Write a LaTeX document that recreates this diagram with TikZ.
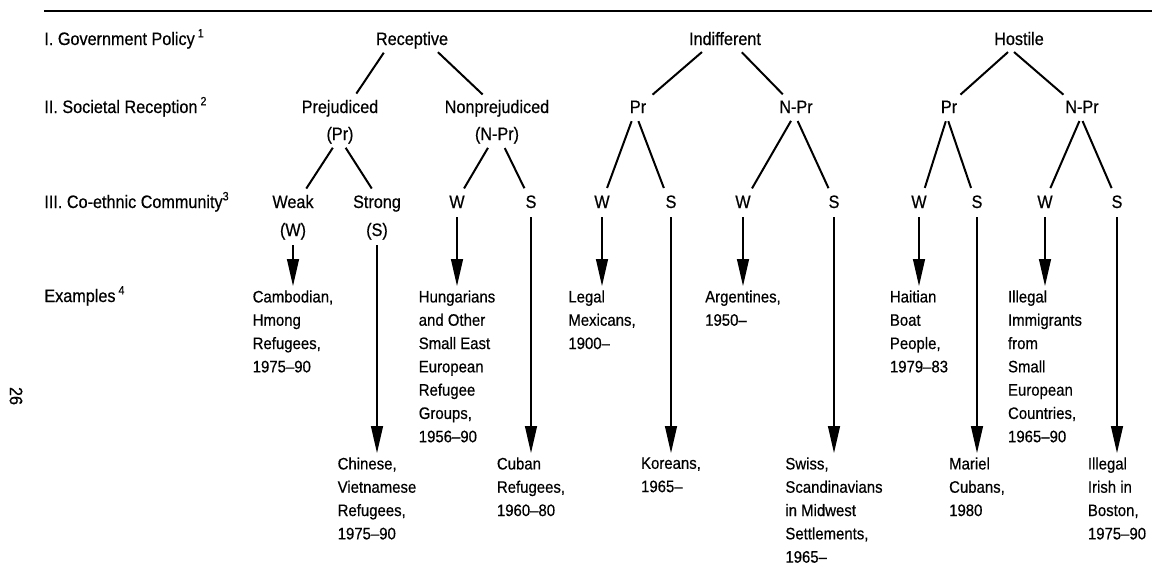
\documentclass[tikz,border=0pt]{standalone}
\usepackage{fontspec}
\setmainfont{Liberation Sans}[FakeStretch=0.9, FakeBold=0.5]
\usetikzlibrary{arrows.meta}
\newcommand\hdfont{\fontsize{9}{13.5}\selectfont}
\newcommand\exfont{\fontsize{8.3}{11.65}\selectfont}

\begin{document}
\begin{tikzpicture}[x=0.5pt, y=-0.5pt,
    lev/.style={font=\hdfont, inner sep=0pt, text height=7pt, text depth=2pt, anchor=base},
    rowlab/.style={font=\hdfont, inner sep=0pt, anchor=base west},
    ex/.style={font=\exfont, inner sep=0pt, align=left, anchor=north},
    branch/.style={line width=1pt, shorten <=2pt, shorten >=3pt},
    arr/.style={line width=0.65pt, -{Triangle[length=13.5pt,width=6pt]}, shorten <=2.5pt, shorten >=2pt}]
   \useasboundingbox (0,0) rectangle (1152,569);
   \draw[line width=1.4pt] (44,11) -- (1152,11);
   \node[font=\hdfont, rotate=-90] (pg) at (16,396) {26};
   % row labels
   \node[rowlab] (lab1) at (44,45) {I. Government Policy\,\textsuperscript{1}};
   \node[rowlab] (lab2) at (44,113) {II. Societal Reception\,\textsuperscript{2}};
   \node[rowlab] (lab3) at (44,208) {III. Co-ethnic Community\textsuperscript{3}};
   \node[rowlab] (lab4) at (44,302) {Examples\,\textsuperscript{4}};
   % government policy
   \node[lev] (rec) at (412,45) {Receptive};
   \node[lev] (ind) at (725,45) {Indifferent};
   \node[lev] (hos) at (1019,45) {Hostile};
   % societal reception
   \node[lev] (prej) at (340,113) {Prejudiced};
   \node[lev] (prejab) at (340,140) {(Pr)};
   \node[lev] (nprej) at (497,113) {Nonprejudiced};
   \node[lev] (nprejab) at (497,140) {(N-Pr)};
   \node[lev] (ipr) at (638,113) {Pr};
   \node[lev] (inpr) at (796,113) {N-Pr};
   \node[lev] (hpr) at (949,113) {Pr};
   \node[lev] (hnpr) at (1082,113) {N-Pr};
   \draw[branch] ([xshift=-13pt]rec.south) -- ([xshift=6.5pt]prej.north);
   \draw[branch] ([xshift=11.5pt]rec.south) -- ([xshift=-5pt]nprej.north);
   \draw[branch] ([xshift=-10pt]ind.south) -- ([xshift=5pt]ipr.north);
   \draw[branch] ([xshift=7pt]ind.south) -- ([xshift=-4.5pt]inpr.north);
   \draw[branch] ([xshift=-4pt]hos.south) -- ([xshift=3.5pt]hpr.north);
   \draw[branch] ([xshift=-4pt]hos.south) -- ([xshift=-7pt]hnpr.north);
   % co-ethnic community
   \node[lev] (weak) at (293,208) {Weak};
   \node[lev] (weakab) at (293,236) {(W)};
   \node[lev] (strong) at (377,208) {Strong};
   \node[lev] (strongab) at (377,236) {(S)};
   \node[lev] (nw) at (457,208) {W};
   \node[lev] (ns) at (531,208) {S};
   \node[lev] (iw) at (602,208) {W};
   \node[lev] (is) at (671,208) {S};
   \node[lev] (inw) at (743,208) {W};
   \node[lev] (ins) at (834,208) {S};
   \node[lev] (hw) at (919,208) {W};
   \node[lev] (hs) at (977,208) {S};
   \node[lev] (hnw) at (1045,208) {W};
   \node[lev] (hns) at (1117,208) {S};
   \draw[branch] ([xshift=-2.5pt]prejab.south) -- ([xshift=5pt]weak.north);
   \draw[branch] ([xshift=1.75pt]prejab.south) -- ([xshift=-1pt]strong.north);
   \draw[branch] ([xshift=-3.5pt]nprejab.south) -- ([xshift=2pt]nw.north);
   \draw[branch] ([xshift=3pt]nprejab.south) -- ([xshift=-2pt]ns.north);
   \draw[branch] ([xshift=-2.5pt]ipr.south) -- ([xshift=1.5pt]iw.north);
   \draw[branch] ([xshift=-0.5pt]ipr.south) -- ([xshift=-2.5pt]is.north);
   \draw[branch] ([xshift=-1.5pt]inpr.south) -- ([xshift=3pt]inw.north);
   \draw[branch] (inpr.south) -- ([xshift=-1.5pt]ins.north);
   \draw[branch] ([xshift=-1pt]hpr.south) -- ([xshift=2pt]hw.north);
   \draw[branch] ([xshift=-1pt]hpr.south) -- ([xshift=-2pt]hs.north);
   \draw[branch] ([xshift=-0.5pt]hnpr.south) -- ([xshift=1.5pt]hnw.north);
   \draw[branch] ([xshift=-0.5pt]hnpr.south) -- ([xshift=-1.5pt]hns.north);
   % examples
   \node[ex] (cam) at (293,290) {Cambodian,\\Hmong\\Refugees,\\1975--90};
   \node[ex] (chi) at (377,457) {Chinese,\\Vietnamese\\Refugees,\\1975--90};
   \node[ex] (hun) at (457,290) {Hungarians\\and Other\\Small East\\European\\Refugee\\Groups,\\1956--90};
   \node[ex] (cub) at (531,457) {Cuban\\Refugees,\\1960--80};
   \node[ex] (mex) at (602,290) {Legal\\Mexicans,\\1900--};
   \node[ex] (kor) at (671,457) {Koreans,\\1965--};
   \node[ex] (arg) at (743,290) {Argentines,\\1950--};
   \node[ex] (swi) at (834,457) {Swiss,\\Scandinavians\\in Midwest\\Settlements,\\1965--};
   \node[ex] (hai) at (919,290) {Haitian\\Boat\\People,\\1979--83};
   \node[ex] (mar) at (977,457) {Mariel\\Cubans,\\1980};
   \node[ex] (ill) at (1045,290) {Illegal\\Immigrants\\from\\Small\\European\\Countries,\\1965--90};
   \node[ex] (iri) at (1117,457) {Illegal\\Irish in\\Boston,\\1975--90};
   \draw[arr] (weakab) -- (cam);
   \draw[arr] (strongab) -- (chi);
   \draw[arr] (nw) -- (hun);
   \draw[arr] (ns) -- (cub);
   \draw[arr] (iw) -- (mex);
   \draw[arr] (is) -- (kor);
   \draw[arr] (inw) -- (arg);
   \draw[arr] (ins) -- (swi);
   \draw[arr] (hw) -- (hai);
   \draw[arr] (hs) -- (mar);
   \draw[arr] (hnw) -- (ill);
   \draw[arr] (hns) -- (iri);
\end{tikzpicture}
\end{document}
